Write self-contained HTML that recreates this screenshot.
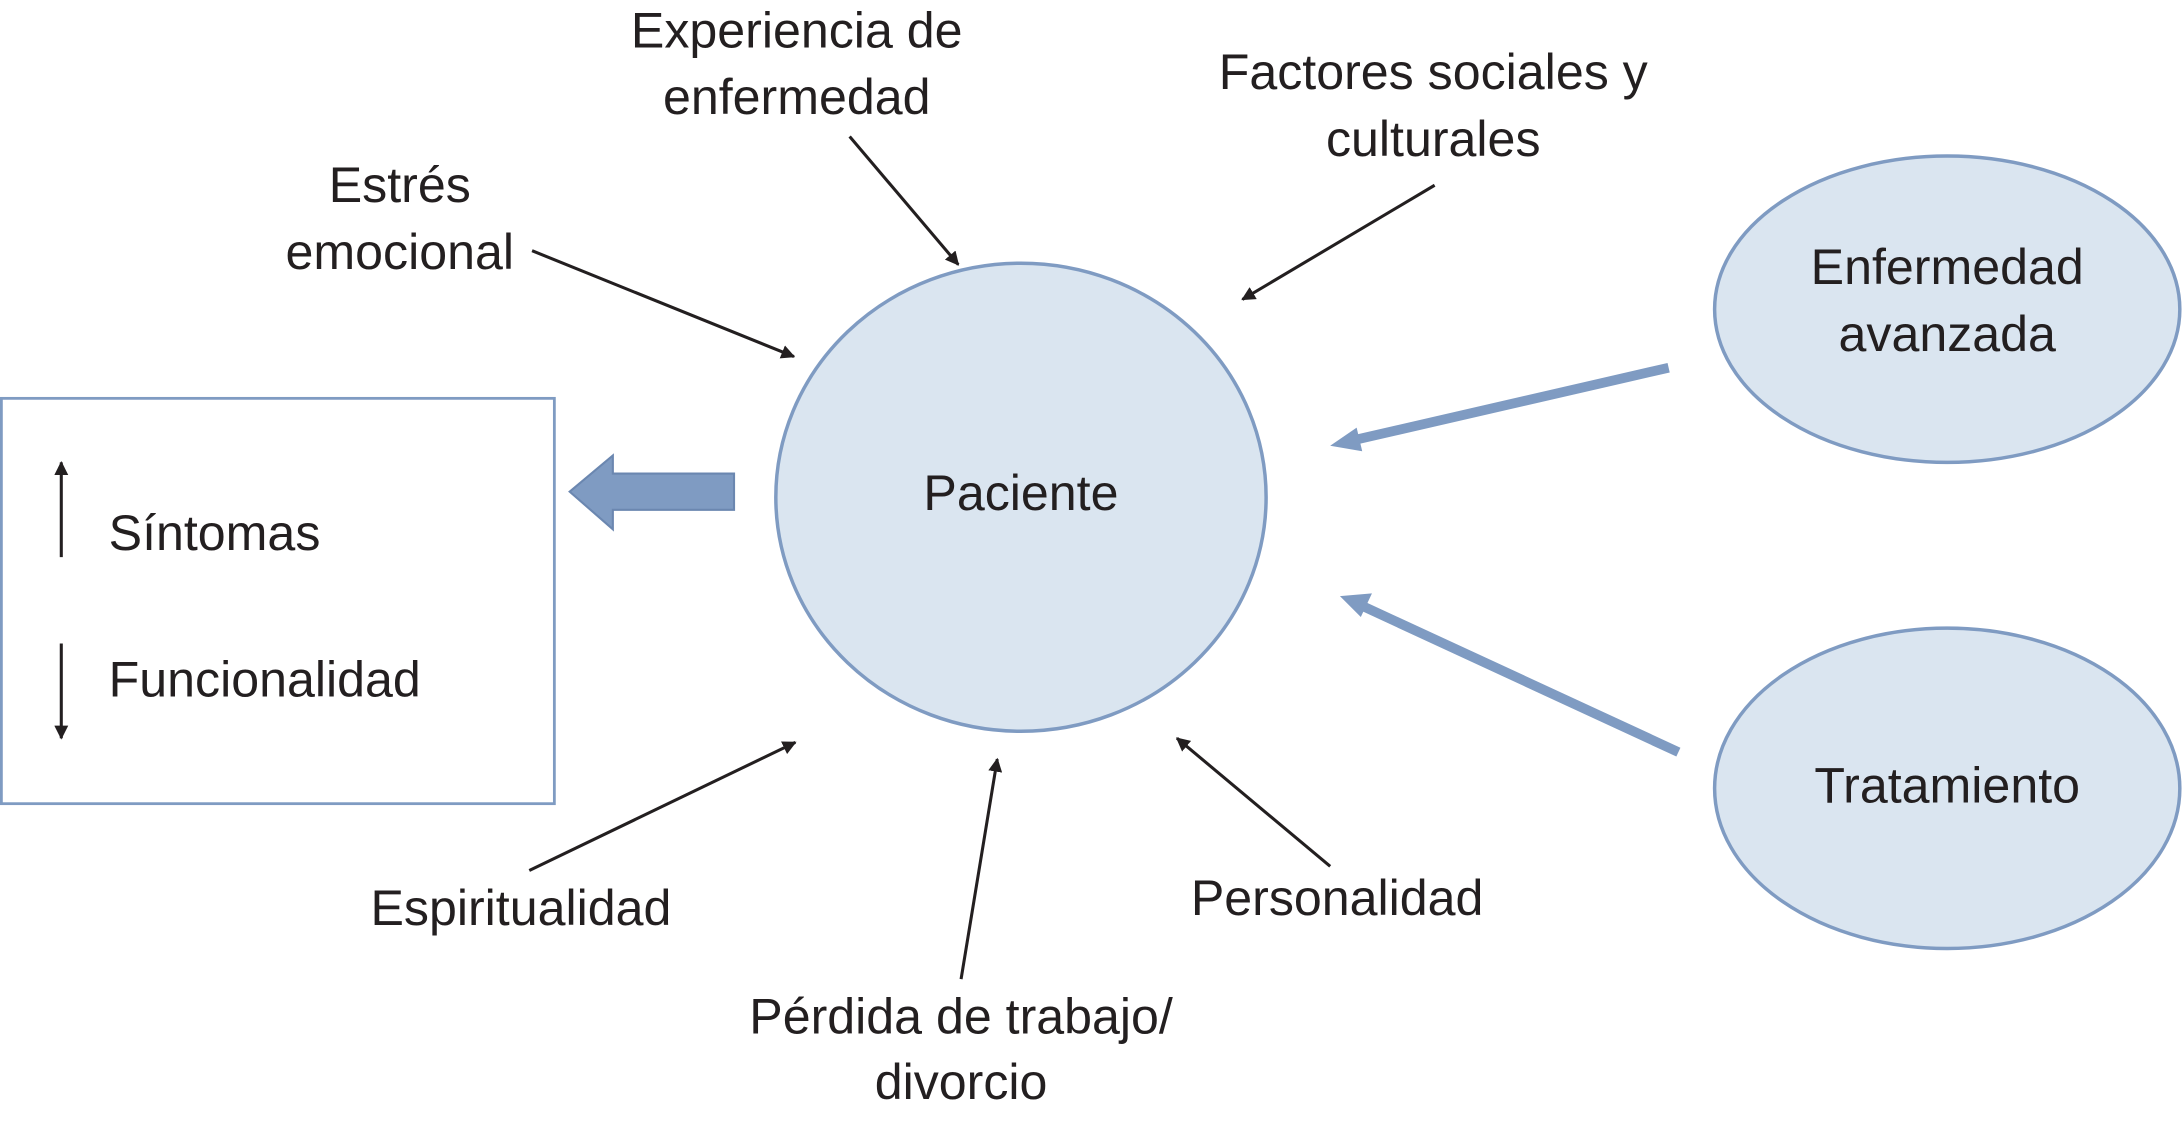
<!DOCTYPE html>
<html><head><meta charset="utf-8"><style>
html,body{margin:0;padding:0;background:#fff;}
svg{display:block;}
text{font-family:"Liberation Sans",sans-serif;font-size:36px;fill:#231f20;}
</style></head><body>
<svg width="2184" height="1125" viewBox="0 0 1568 807.7" preserveAspectRatio="none">
<defs>
<marker id="ah" markerWidth="10" markerHeight="10" refX="9" refY="5" orient="auto" markerUnits="userSpaceOnUse" viewBox="0 0 10 10">
<path d="M0,0 L10,5 L0,10 z" fill="#231f20"/></marker>
</defs>
<g transform="scale(1)">
<rect x="1" y="286" width="397" height="291" fill="#fff" stroke="#7f9bc2" stroke-width="2"/>
<ellipse cx="733" cy="357" rx="176" ry="168" fill="#dae5f0" stroke="#7f9bc2" stroke-width="2.5"/>
<ellipse cx="1398" cy="222" rx="167" ry="110" fill="#dae5f0" stroke="#7f9bc2" stroke-width="2.5"/>
<ellipse cx="1398" cy="566" rx="167" ry="115" fill="#dae5f0" stroke="#7f9bc2" stroke-width="2.5"/>
<!-- big left arrow -->
<polygon points="527,340 440,340 440,327 409,353 440,380 440,366 527,366" fill="#7f9bc2" stroke="#6b87b0" stroke-width="1.5"/>
<!-- thin blue arrows -->
<line x1="1198" y1="264" x2="972" y2="316" stroke="#7f9bc2" stroke-width="7"/>
<polygon points="955,320 974,307 978,324" fill="#7f9bc2"/>
<line x1="1205" y1="540" x2="978" y2="435" stroke="#7f9bc2" stroke-width="7"/>
<polygon points="962,428 985,426 977,443" fill="#7f9bc2"/>
<!-- black arrows -->
<g stroke="#231f20" stroke-width="2.2" fill="none">
<line x1="382" y1="180" x2="570" y2="256" marker-end="url(#ah)"/>
<line x1="610" y1="98" x2="688" y2="190" marker-end="url(#ah)"/>
<line x1="1030" y1="133" x2="892" y2="215" marker-end="url(#ah)"/>
<line x1="380" y1="625" x2="571" y2="533" marker-end="url(#ah)"/>
<line x1="690" y1="703" x2="716" y2="545" marker-end="url(#ah)"/>
<line x1="955" y1="622" x2="845" y2="530" marker-end="url(#ah)"/>
<line x1="44" y1="400" x2="44" y2="332" marker-end="url(#ah)"/>
<line x1="44" y1="462" x2="44" y2="530" marker-end="url(#ah)"/>
</g>
<text x="733" y="366" text-anchor="middle">Paciente</text>
<text x="1398" y="204" text-anchor="middle">Enfermedad</text>
<text x="1398" y="252" text-anchor="middle">avanzada</text>
<text x="1398" y="576" text-anchor="middle">Tratamiento</text>
<text x="78" y="395">Síntomas</text>
<text x="78" y="500">Funcionalidad</text>
<text x="572" y="34" text-anchor="middle">Experiencia de</text>
<text x="572" y="82" text-anchor="middle">enfermedad</text>
<text x="1029" y="64" text-anchor="middle">Factores sociales y</text>
<text x="1029" y="112" text-anchor="middle">culturales</text>
<text x="287" y="145" text-anchor="middle">Estrés</text>
<text x="287" y="193" text-anchor="middle">emocional</text>
<text x="374" y="664" text-anchor="middle">Espiritualidad</text>
<text x="960" y="657" text-anchor="middle">Personalidad</text>
<text x="690" y="742" text-anchor="middle">Pérdida de trabajo/</text>
<text x="690" y="789" text-anchor="middle">divorcio</text>
</g>
</svg>
</body></html>
